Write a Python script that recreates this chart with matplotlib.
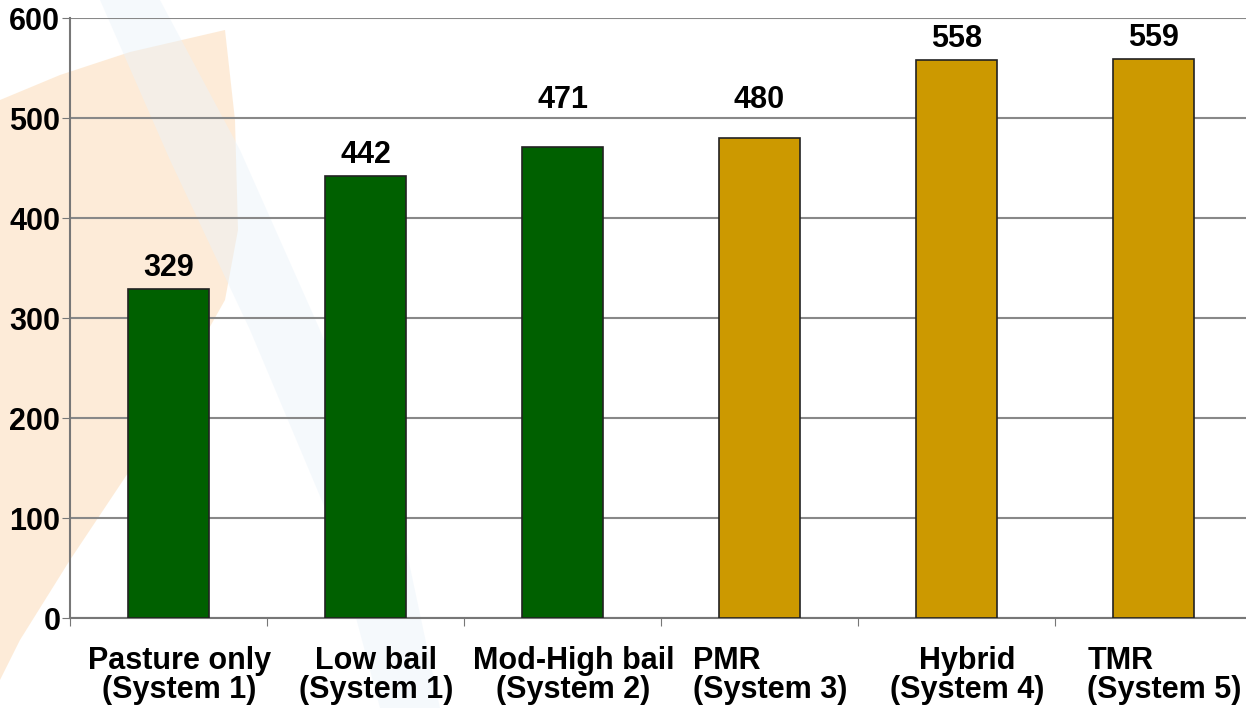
import numpy as np
import matplotlib
matplotlib.use("Agg")
from matplotlib import pyplot as plt
from matplotlib.patches import Polygon

plt.rcParams["font.family"] = ["Liberation Sans", "DejaVu Sans"]
plt.rcParams["font.weight"] = "bold"

categories = ["Pasture only\n(System 1)", "Low bail\n(System 1)", "Mod-High bail\n(System 2)",
              "PMR\n(System 3)", "Hybrid\n(System 4)", "TMR\n(System 5)"]
values = [329, 442, 471, 480, 558, 559]
colors = ["#006000", "#006000", "#006000", "#CC9900", "#CC9900", "#CC9900"]
label_align = ["center", "center", "center", "left", "center", "left"]

fig = plt.figure(figsize=(12.46, 7.08), dpi=100)

# faint decorative background swoosh
bg = fig.add_axes([0, 0, 1, 1], zorder=-1)
bg.set_xlim(0, 1246)
bg.set_ylim(708, 0)
bg.axis("off")
orange = [(0, 100), (60, 75), (130, 52), (225, 30), (235, 120), (238, 230), (225, 300),
          (180, 380), (130, 470), (70, 560), (20, 640), (0, 680)]
bg.add_patch(Polygon(orange, closed=True, color="#FDE7CF", alpha=0.8, lw=0))
blue = [(100, 0), (160, 0), (240, 150), (320, 330), (400, 520), (440, 708), (380, 708),
        (330, 520), (250, 330), (170, 160)]
bg.add_patch(Polygon(blue, closed=True, color="#EAF3FA", alpha=0.45, lw=0))

ax = fig.add_axes([70 / 1246, 90 / 708, 1182 / 1246, 600 / 708])
ax.patch.set_alpha(0)
x = np.arange(len(values))
ax.bar(x, values, width=0.41, color=colors, edgecolor="#222222", linewidth=1.2, zorder=3)

ax.set_xlim(-0.5, len(values) - 0.5)
ax.set_ylim(0, 600)
ax.set_yticks(np.arange(0, 601, 100))
ax.yaxis.grid(True, color="#888888", linewidth=1.5, zorder=0)
ax.set_axisbelow(True)
for s in ["top", "right"]:
    ax.spines[s].set_visible(False)
for s in ["left", "bottom"]:
    ax.spines[s].set_color("#777777")
    ax.spines[s].set_linewidth(1.5)

ax.tick_params(axis="y", labelsize=22, length=6, color="#777777", pad=1)
ax.set_xticks(np.arange(-0.5, len(values), 1))
ax.set_xticklabels([])
ax.tick_params(axis="x", length=6, color="#777777")

for i, (lab, al) in enumerate(zip(categories, label_align)):
    ax.text(i + 0.055, -28, lab, ha="center", va="top", fontsize=22, fontweight="bold",
            multialignment=al, linespacing=0.95)

for i, v in enumerate(values):
    y = v + 21
    g = round(y / 100) * 100
    if abs(y - g) < 15:
        y = g + 18
    ax.text(i, y, str(v), ha="center", va="center", fontsize=22, fontweight="bold")

fig.savefig("out.png", dpi=100)
